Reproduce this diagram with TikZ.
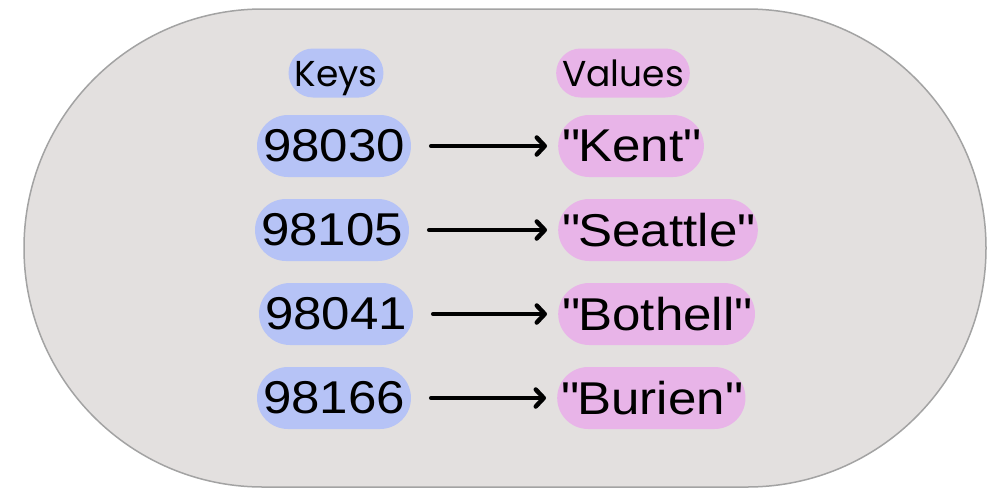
\documentclass[tikz,border=0pt]{standalone}
\usepackage{fontspec}
\setmainfont{Liberation Sans}[FakeStretch=1.11]
\newfontfamily\headfont{Poppins}
\usetikzlibrary{arrows.meta}
\definecolor{panelfill}{HTML}{E3E0DF}
\definecolor{panelline}{HTML}{A3A3A3}
\definecolor{keyblue}{HTML}{B6C3F6}
\definecolor{valpink}{HTML}{E8B4E8}
\newcommand{\qt}[1]{\textquotedbl#1\textquotedbl}
\tikzset{
  pill/.style={rounded corners=#1, inner ysep=0pt, inner xsep=6pt, text=black},
  header/.style={pill=24.5pt, minimum height=49pt, text height=34pt, text depth=7pt,
    font=\headfont\fontsize{36}{36}\selectfont},
  entry/.style={pill=31pt, minimum height=62pt, font=\fontsize{46}{46}\selectfont},
  keypill/.style={fill=keyblue},
  valpill/.style={fill=valpink, inner xsep=4pt},
  maps/.style={line width=4.5pt, line cap=round, -{Straight Barb[length=8pt,width=17pt,round]},
    shorten <=20pt, shorten >=11pt}
}
\begin{document}
\begin{tikzpicture}[x=1pt,y=-1pt]
  \fill[white] (0,0) rectangle (997,491);
  \useasboundingbox (0,0) rectangle (997,491);
  % container
  \draw[panelline, fill=panelfill, line width=1.5pt, rounded corners=239pt] (24,9) rectangle (986,487);
  % column headers
  \node[header, keypill] (hk) at (336,73) {Keys};
  \node[header, valpill, inner xsep=6pt] (hv) at (623,73) {Values};
  % key column
  \node[entry, keypill] (k1) at (334,146) {98030};
  \node[entry, keypill] (k2) at (332,230) {98105};
  \node[entry, keypill] (k3) at (336,314) {98041};
  \node[entry, keypill] (k4) at (334,398) {98166};
  % value column
  \node[entry, valpill, anchor=west] (v1) at (558,146) {\qt{Kent}};
  \node[entry, valpill, anchor=west] (v2) at (558,230) {\qt{Seattle}};
  \node[entry, valpill, anchor=west] (v3) at (558,314) {\qt{Bothell}};
  \node[entry, valpill, anchor=west] (v4) at (557,398) {\qt{Burien}};
  % mappings
  \foreach \i in {1,...,4}{
    \draw[maps] (k\i.east) -- (v\i.west);
  }
\end{tikzpicture}
\end{document}
